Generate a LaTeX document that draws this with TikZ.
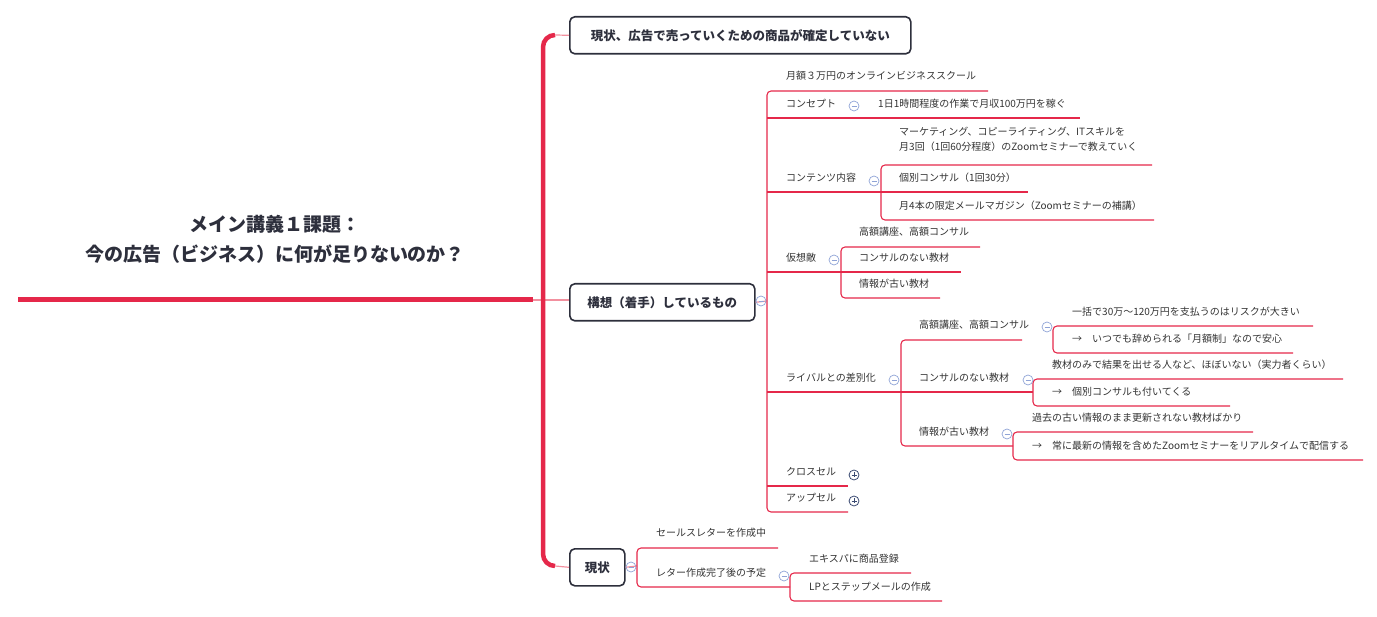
\documentclass[tikz,border=0pt]{standalone}
\usepackage{fontspec}
\setmainfont{Noto Sans CJK JP}
\definecolor{lr}{HTML}{E5284A}
\definecolor{pk}{HTML}{F2909F}
\definecolor{tx}{HTML}{333333}
\definecolor{bx}{HTML}{2D2F3C}
\definecolor{cl}{HTML}{8FA3D6}
\definecolor{cp}{HTML}{3A4A72}
\begin{document}
\begin{tikzpicture}[x=1pt,y=-1pt,
  ln/.style={draw=lr,line width=1.1pt,rounded corners=4pt},
  sp/.style={draw=lr,line width=4.5pt,rounded corners=12pt},
  cn/.style={draw=pk,line width=1.2pt},
  t/.style={anchor=west,inner sep=0pt,text=tx,font=\fontsize{10}{12}\selectfont},
  box/.style={draw=bx,line width=1.6pt,rounded corners=5pt,text=bx,font=\fontsize{12.5}{15}\selectfont\bfseries,minimum height=37pt,inner xsep=14pt}]
\useasboundingbox (0,0) rectangle (1377,617);
\newcommand\minusc[1]{\draw[cl,line width=0.7pt] #1 circle (5pt); \draw[cl,line width=0.7pt] #1 ++(-2.5,0) -- ++(5,0);}
\newcommand\plusc[1]{\draw[cp,line width=0.8pt] #1 circle (5pt); \draw[cp,line width=0.8pt] #1 ++(-2.5,0) -- ++(5,0) #1 ++(0,-2.5) -- ++(0,5);}
% root
\node[text=bx,font=\fontsize{19}{30}\selectfont\bfseries,align=center] (root) at (275,239) {メイン講義１課題：\\今の広告（ビジネス）に何が足りないのか？};
\draw[lr,line width=5pt] (18,300) -- (533,300);
\draw[cn] (533,300) -- (569,300);
% boxes
\node[box,anchor=north west,minimum width=341pt] (b1) at (569,16) {現状、広告で売っていくための商品が確定していない};
\node[box,anchor=north west,minimum width=185pt] (b2) at (569,283) {構想（着手）しているもの};
\node[box,anchor=north west,minimum width=55pt,inner xsep=4pt] (b3) at (569,548) {現状};
\draw[sp] (555,35) -- (543,35) -- (543,566) -- (555,566);
\draw[cn] (555,35) -- (b1.west);
\draw[cn] (555,566) -- (b3.west);
\draw[cn] (b2.east) -- (767,301);
% level 2 under b2
\draw[ln] (988,91) -- (767,91) -- (767,512) -- (848,512);
\draw[ln] (767,118) -- (1080,118);
\draw[ln] (767,192) -- (1028,192);
\draw[ln] (1152,165) -- (881,165) -- (881,220) -- (1154,220);
\draw[ln] (767,272) -- (961,272);
\draw[ln] (980,247) -- (841,247) -- (841,298) -- (940,298);
\draw[ln] (767,392) -- (1033,392);
\draw[ln] (767,486) -- (848,486);
\draw[ln] (1022,340) -- (901,340) -- (901,446) -- (1013,446);
\draw[ln] (1313,326) -- (1053,326) -- (1053,353) -- (1293,353);
\draw[ln] (1343,379) -- (1033,379) -- (1033,406) -- (1230,406);
\draw[ln] (1253,432) -- (1013,432) -- (1013,460) -- (1363,460);
% texts
\node[t] (a1) at (786,76) {月額３万円のオンラインビジネススクール};
\node[t] (a2) at (786,104) {コンセプト};
\node[t] (a21) at (878,104) {1日1時間程度の作業で月収100万円を稼ぐ};
\node[t,align=left,font=\fontsize{10}{15}\selectfont] (a31) at (899,139) {マーケティング、コピーライティング、ITスキルを\\月3回（1回60分程度）のZoomセミナーで教えていく};
\node[t] (a3) at (786,178) {コンテンツ内容};
\node[t] (a32) at (899,178) {個別コンサル（1回30分）};
\node[t] (a33) at (899,206) {月4本の限定メールマガジン（Zoomセミナーの補講）};
\node[t] (a4) at (786,258) {仮想敵};
\node[t] (a41) at (859,232) {高額講座、高額コンサル};
\node[t] (a42) at (859,258) {コンサルのない教材};
\node[t] (a43) at (859,284) {情報が古い教材};
\node[t] (a5) at (786,378) {ライバルとの差別化};
\node[t] (a51) at (919,325) {高額講座、高額コンサル};
\node[t] (a511) at (1072,312) {一括で30万〜120万円を支払うのはリスクが大きい};
\node[t] (a512) at (1072,339) {→\quad いつでも辞められる「月額制」なので安心};
\node[t] (a52) at (919,378) {コンサルのない教材};
\node[t] (a521) at (1052,365) {教材のみで結果を出せる人など、ほぼいない（実力者くらい）};
\node[t] (a522) at (1052,392) {→\quad 個別コンサルも付いてくる};
\node[t] (a53) at (919,432) {情報が古い教材};
\node[t] (a531) at (1032,418) {過去の古い情報のまま更新されない教材ばかり};
\node[t] (a532) at (1032,446) {→\quad 常に最新の情報を含めたZoomセミナーをリアルタイムで配信する};
\node[t] (a6) at (786,472) {クロスセル};
\node[t] (a7) at (786,498) {アップセル};
% 現状 branch
\draw[cn] (b3.east) -- (637,566);
\draw[ln] (778,548) -- (637,548) -- (637,587) -- (790,587);
\draw[ln] (911,573) -- (790,573) -- (790,601) -- (942,601);
\node[t] (c1) at (656,533) {セールスレターを作成中};
\node[t] (c2) at (656,573) {レター作成完了後の予定};
\node[t] (c21) at (809,559) {エキスパに商品登録};
\node[t] (c22) at (809,587) {LPとステップメールの作成};
% collapse markers
\minusc{(761,301)} \minusc{(854,106)} \minusc{(874,181)} \minusc{(834,260)}
\minusc{(894,380)} \minusc{(1047,327)} \minusc{(1028,380)} \minusc{(1007,434)}
\minusc{(631,567)} \minusc{(784,576)}
\plusc{(854,475)} \plusc{(854,501)}
\end{tikzpicture}
\end{document}
